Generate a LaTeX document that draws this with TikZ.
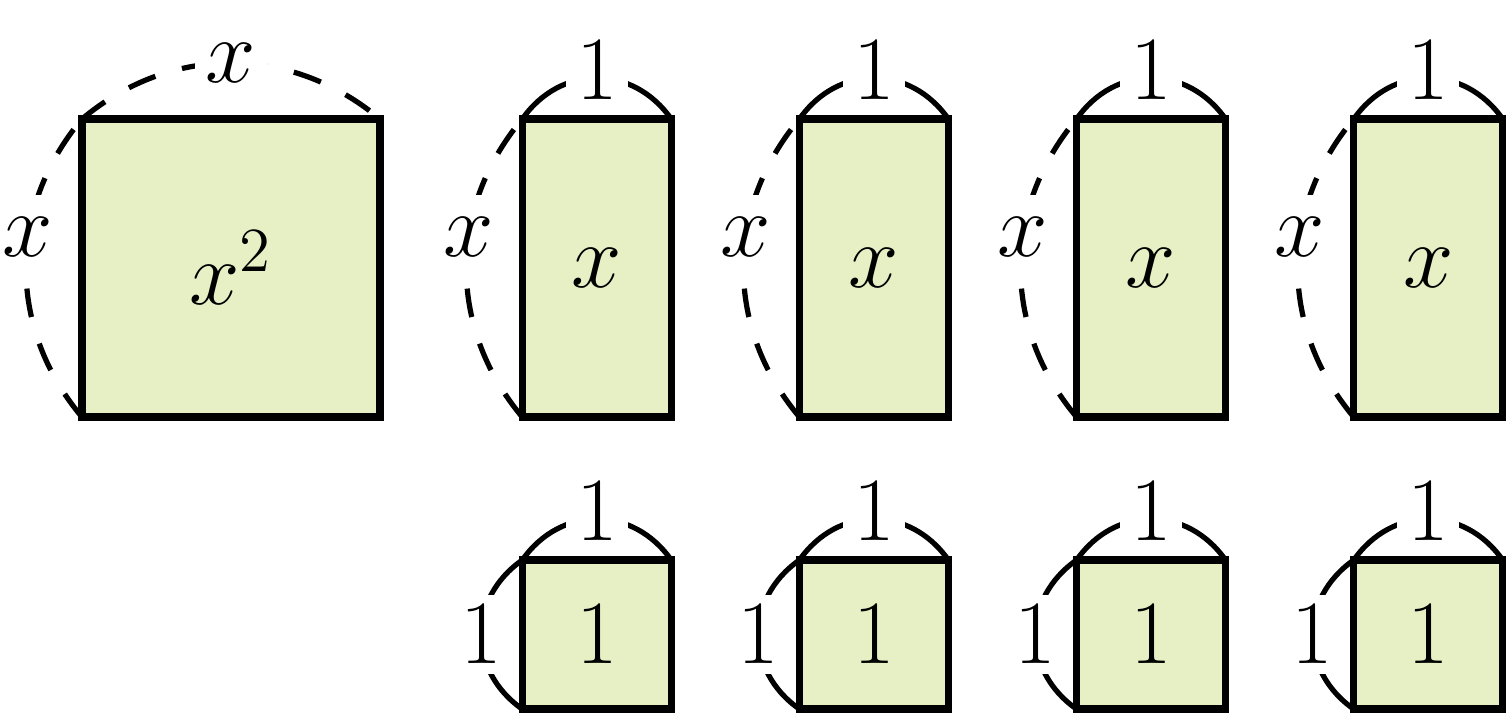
\documentclass[tikz,border=0pt]{standalone}
\usepackage{tikz}
\usetikzlibrary{positioning,backgrounds}
\definecolor{tilegreen}{RGB}{230,240,196}

\begin{document}
\begin{tikzpicture}
            [node distance={8.6mm}, font=\fontsize{17.8}{21}\selectfont,
             tile/.style = {draw, rectangle, fill=tilegreen, line width=1.4pt, outer sep=0pt, inner sep=0pt},
             xtile/.style = {tile, minimum width=1cm, minimum height=2cm},
             unit/.style = {tile, minimum size=1cm},
             side/.style = {line width=1pt},
             xside/.style = {side, dash pattern=on 5.5pt off 5.3pt},
             len/.style = {fill=white, inner sep=2pt},
             xlen/.style = {len, minimum height=5.6mm}]
            \useasboundingbox (0,0) rectangle (10.107,4.799);
            \node[tile, minimum size=2cm] (BigSquare) at (1.55,3) {$x^2$};
            \node[xtile] (RectA) [right=9.55mm of BigSquare] {$x$};
            \node[xtile] (RectB) [right=of RectA] {$x$};
            \node[xtile] (RectC) [right=of RectB] {$x$};
            \node[xtile] (RectD) [right=of RectC] {$x$};
            \node[unit] (UnitA) [below=9.6mm of RectA] {$1$};
            \node[unit] (UnitB) [below=9.6mm of RectB] {$1$};
            \node[unit] (UnitC) [below=9.6mm of RectC] {$1$};
            \node[unit] (UnitD) [below=9.6mm of RectD] {$1$};

            \begin{scope}[on background layer]
            \draw[xside] (BigSquare.south west) to[bend left=40] node[xlen, pos=0.6] {$x$} (BigSquare.north west);
            \draw[xside] (BigSquare.north west) to[bend left=40] node[len] {$x$} (BigSquare.north east);

            \draw[xside] (RectA.south west) to[bend left=40] node[xlen, pos=0.6] {$x$} (RectA.north west);
            \draw[side] (RectA.north west) to[bend left=55, looseness=1.15] node[len, yshift=0.5mm] {$1$} (RectA.north east);
            \draw[xside] (RectB.south west) to[bend left=40] node[xlen, pos=0.6] {$x$} (RectB.north west);
            \draw[side] (RectB.north west) to[bend left=55, looseness=1.15] node[len, yshift=0.5mm] {$1$} (RectB.north east);
            \draw[xside] (RectC.south west) to[bend left=40] node[xlen, pos=0.6] {$x$} (RectC.north west);
            \draw[side] (RectC.north west) to[bend left=55, looseness=1.15] node[len, yshift=0.5mm] {$1$} (RectC.north east);
            \draw[xside] (RectD.south west) to[bend left=40] node[xlen, pos=0.6] {$x$} (RectD.north west);
            \draw[side] (RectD.north west) to[bend left=55, looseness=1.15] node[len, yshift=0.5mm] {$1$} (RectD.north east);

            \draw[side] (UnitA.south west) to[bend left=55, looseness=1.15] node[len] {$1$} (UnitA.north west);
            \draw[side] (UnitA.north west) to[bend left=55, looseness=1.15] node[len, yshift=0.5mm] {$1$} (UnitA.north east);
            \draw[side] (UnitB.south west) to[bend left=55, looseness=1.15] node[len] {$1$} (UnitB.north west);
            \draw[side] (UnitB.north west) to[bend left=55, looseness=1.15] node[len, yshift=0.5mm] {$1$} (UnitB.north east);
            \draw[side] (UnitC.south west) to[bend left=55, looseness=1.15] node[len] {$1$} (UnitC.north west);
            \draw[side] (UnitC.north west) to[bend left=55, looseness=1.15] node[len, yshift=0.5mm] {$1$} (UnitC.north east);
            \draw[side] (UnitD.south west) to[bend left=55, looseness=1.15] node[len] {$1$} (UnitD.north west);
            \draw[side] (UnitD.north west) to[bend left=55, looseness=1.15] node[len, yshift=0.5mm] {$1$} (UnitD.north east);
            \end{scope}
        \end{tikzpicture}
\end{document}
